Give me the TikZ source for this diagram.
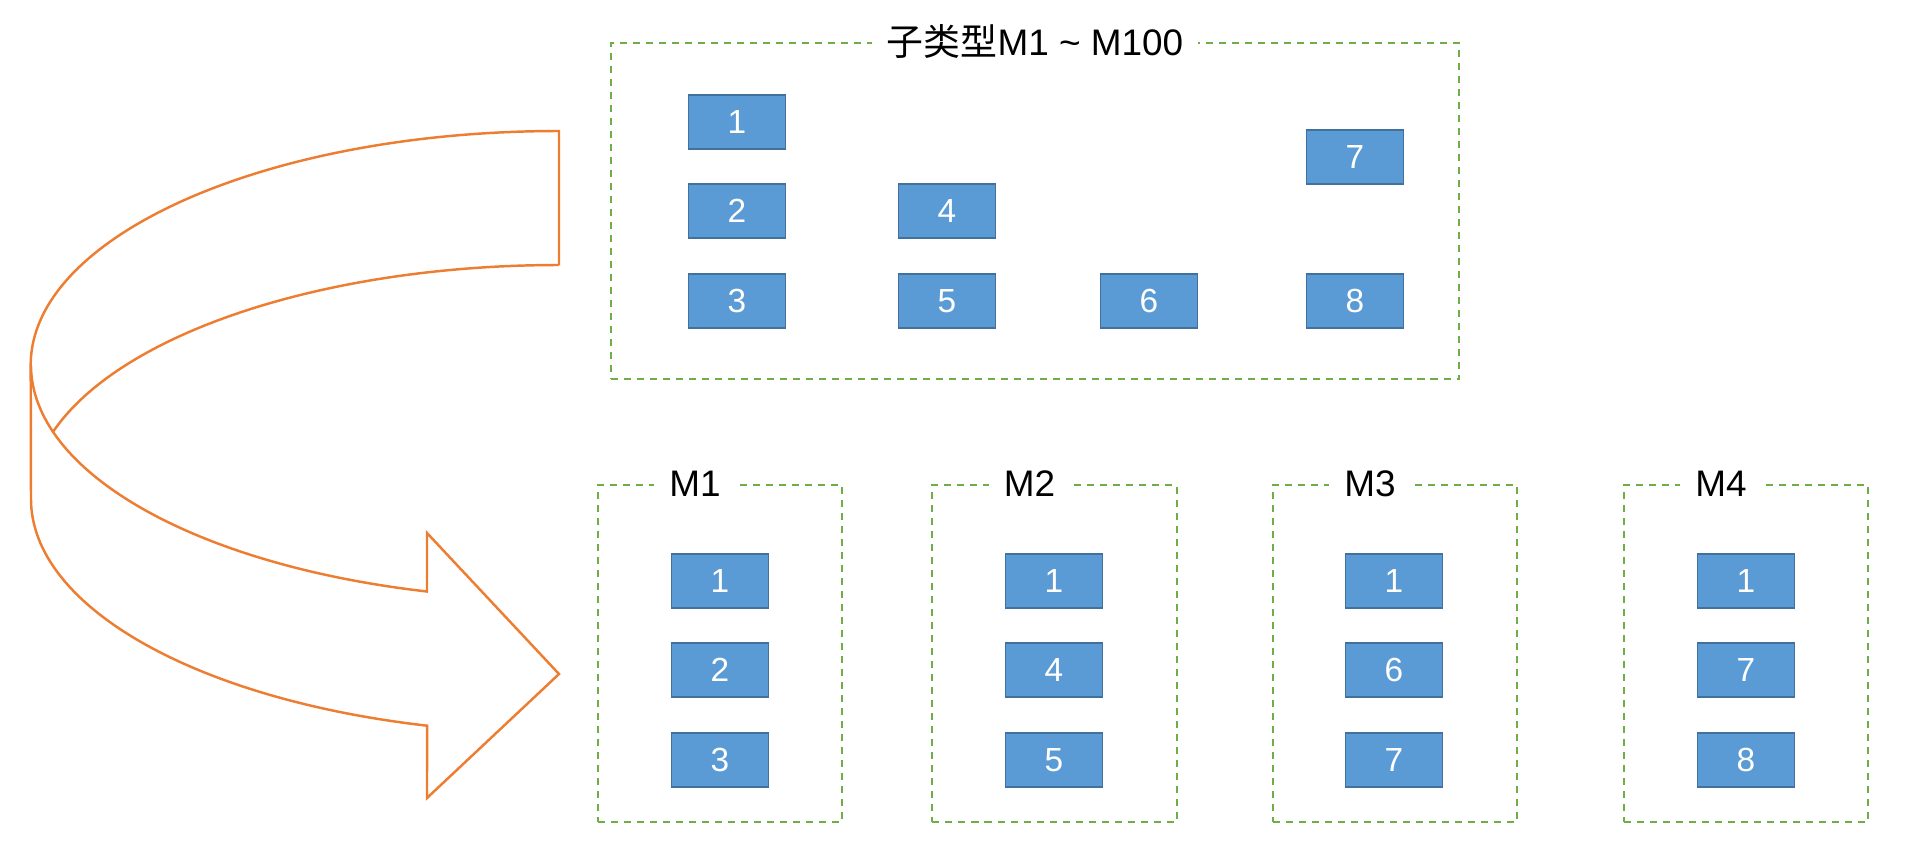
\documentclass[tikz,border=0pt]{standalone}
\usepackage{fontspec}
\setmainfont{Liberation Sans}
\newfontfamily\cjk{Noto Sans CJK SC}
\definecolor{itemblue}{HTML}{5B9BD5}
\definecolor{itemedge}{HTML}{41719C}
\definecolor{groupgreen}{HTML}{70AD47}
\definecolor{arroworange}{HTML}{ED7D31}

\begin{document}
\begin{tikzpicture}[x=0.01cm,y=-0.01cm,
    item/.style={draw=itemedge,fill=itemblue,text=white,line width=0.5pt,minimum width=0.97cm,minimum height=0.54cm,inner sep=0pt,font=\fontsize{9.5}{11}\selectfont},
    group/.style={draw=groupgreen,dash pattern=on 2pt off 1.7pt,line width=0.6pt,inner sep=0pt},
    grouplabel/.style={fill=white,inner xsep=0.15cm,inner ysep=1pt,font=\fontsize{10.5}{12}\selectfont}]
                        \useasboundingbox (0,0) rectangle (1906,848);

                        % turning arrow
                        \draw[arroworange,line width=0.7pt] (559,265) -- (559,131)
                            arc[start angle=90,end angle=180,x radius=5.28cm,y radius=2.34cm] -- (31,499)
                            arc[start angle=180,end angle=255.5,x radius=5.28cm,y radius=2.34cm] -- (427,798)
                            -- (559,674) -- (427,533) -- (427,591.5)
                            arc[start angle=255.5,end angle=180,x radius=5.28cm,y radius=2.34cm];
                        \draw[arroworange,line width=0.7pt] (559,265)
                            arc[start angle=90,end angle=163.4,x radius=5.28cm,y radius=2.34cm];

                        % all sub types
                        \node[group,minimum width=8.48cm,minimum height=3.36cm] (all) at (1035,211){};
                        \node[grouplabel] (alllabel) at (all.north){{\cjk 子类型}M1 \textasciitilde{} M100};
                        \node[item] (t1) at (737,122){1};
                        \node[item] (t2) at (737,211){2};
                        \node[item] (t3) at (737,301){3};
                        \node[item] (t4) at (947,211){4};
                        \node[item] (t5) at (947,301){5};
                        \node[item] (t6) at (1149,301){6};
                        \node[item] (t7) at (1355,157){7};
                        \node[item] (t8) at (1355,301){8};

                        % M1 .. M4
                        \node[group,minimum width=2.44cm,minimum height=3.37cm] (m1) at (720,653.5){};
                        \node[group,minimum width=2.44cm,minimum height=3.37cm] (m2) at (1054.5,653.5){};
                        \node[group,minimum width=2.44cm,minimum height=3.37cm] (m3) at (1395,653.5){};
                        \node[group,minimum width=2.44cm,minimum height=3.37cm] (m4) at (1746,653.5){};
                        \node[grouplabel] (m1label) at ([xshift=-0.25cm]m1.north){M1};
                        \node[grouplabel] (m2label) at ([xshift=-0.25cm]m2.north){M2};
                        \node[grouplabel] (m3label) at ([xshift=-0.25cm]m3.north){M3};
                        \node[grouplabel] (m4label) at ([xshift=-0.25cm]m4.north){M4};

                        \node[item] (m1-1) at (720,581){1};
                        \node[item] (m1-2) at (720,670){2};
                        \node[item] (m1-3) at (720,760){3};
                        \node[item] (m2-1) at (1054,581){1};
                        \node[item] (m2-2) at (1054,670){4};
                        \node[item] (m2-3) at (1054,760){5};
                        \node[item] (m3-1) at (1394,581){1};
                        \node[item] (m3-2) at (1394,670){6};
                        \node[item] (m3-3) at (1394,760){7};
                        \node[item] (m4-1) at (1746,581){1};
                        \node[item] (m4-2) at (1746,670){7};
                        \node[item] (m4-3) at (1746,760){8};
                    \end{tikzpicture}
\end{document}
